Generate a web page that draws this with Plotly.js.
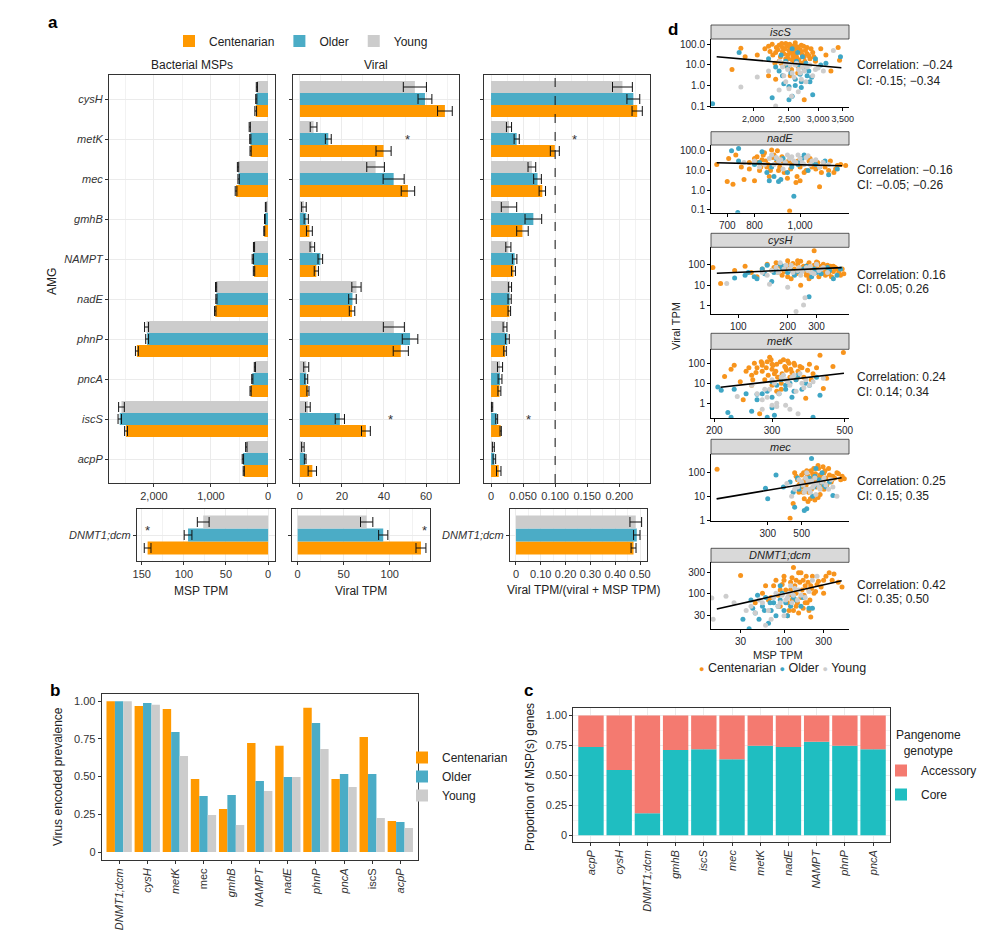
<!DOCTYPE html>
<html><head><meta charset="utf-8">
<script src="https://cdn.plot.ly/plotly-3.0.1.min.js"></script>
<style>html,body{margin:0;padding:0;background:#fff}#chart{width:992px;height:939px}</style>
</head><body><div id="chart"></div>
<script>
// ---------------- DATA ----------------
const groups = ['Centenarian','Older','Young'];
const amg = ['cysH','metK','mec','gmhB','NAMPT','nadE','phnP','pncA','iscS','acpP'];

const msp_C = [215,305,560,65,245,925,2300,305,2490,425];
const msp_O = [205,310,515,55,265,905,2120,275,2600,440];
const msp_Y = [195,320,525,40,245,910,2130,230,2570,380];
const msp_C_err = [15,10,15,8,12,12,25,10,25,10];
const msp_O_err = [10,10,12,6,12,10,25,10,30,12];
const msp_Y_err = [10,10,12,6,10,10,35,10,50,12];

const vir_C = [69,39.8,51.4,4.5,7.8,24.8,48,3.8,31.4,5.9];
const vir_O = [59.5,13.5,44.6,3.0,9.7,25,52.4,3,19,2.5];
const vir_Y = [54.7,6.5,36,1.9,5.9,26.9,44.7,3,3.8,1.4];
const vir_C_err = [3.5,3.6,3.2,1.4,1.0,1.3,3.6,0.5,2.1,2];
const vir_O_err = [3.3,1.4,5,1.0,1.1,1.8,3.7,0.7,2.2,0.4];
const vir_Y_err = [5.5,1.6,4.2,1.1,1.1,2.2,5,1.2,1.1,0.6];

const rat_C = [0.228,0.0995,0.080,0.049,0.035,0.0285,0.0218,0.013,0.015,0.012];
const rat_O = [0.222,0.040,0.0725,0.066,0.0368,0.029,0.0254,0.014,0.0088,0.0052];
const rat_Y = [0.205,0.028,0.0637,0.028,0.027,0.0295,0.0218,0.014,0.0016,0.0036];
const rat_C_err = [0.008,0.007,0.005,0.009,0.003,0.002,0.002,0.0023,0.001,0.0035];
const rat_O_err = [0.010,0.004,0.006,0.013,0.0035,0.0025,0.003,0.003,0.0015,0.002];
const rat_Y_err = [0.0155,0.004,0.006,0.012,0.004,0.0025,0.003,0.004,0.001,0.0015];

const dnmt = ['DNMT1;dcm'];
const dn_msp = [143,95,77];      // C, O, Y
const dn_msp_err = [4,4.6,7];
const dn_vir = [134,93,75];
const dn_vir_err = [5.4,5,6.7];
const dn_rat = [0.474,0.487,0.483];
const dn_rat_err = [0.01,0.013,0.0235];

// panel b
const prevCats = ['DNMT1;dcm','cysH','metK','mec','gmhB','NAMPT','nadE','phnP','pncA','iscS','acpP'];
const prevTick = ['<i>DNMT1;dcm</i>','<i>cysH</i>','<i>metK</i>','mec','<i>gmhB</i>','<i>NAMPT</i>','<i>nadE</i>','<i>phnP</i>','<i>pncA</i>','iscS','<i>acpP</i>'];
const prev_C = [1.0,0.969,0.949,0.485,0.285,0.723,0.704,0.956,0.485,0.763,0.206];
const prev_O = [1.0,0.989,0.796,0.372,0.378,0.471,0.498,0.856,0.518,0.518,0.199];
const prev_Y = [1.0,0.976,0.637,0.246,0.179,0.405,0.498,0.684,0.431,0.226,0.159];

// panel c
const panCats = ['acpP','cysH','DNMT1;dcm','gmhB','iscS','mec','metK','nadE','NAMPT','phnP','pncA'];
const pan_core = [0.738,0.546,0.184,0.713,0.719,0.635,0.747,0.738,0.78,0.747,0.719];
const pan_acc = [0.262,0.454,0.816,0.287,0.281,0.365,0.253,0.262,0.22,0.253,0.281];

// panel d scatter
const isc_C_x = [1850,1900,1750,2050,2150,2200,2250,2300,2350,2400,2450,2500,2550,2600,2650,2700,2750,2800,2850,2900,2950,3050,3150,3250,3400,3430,2450,2550,2600,2350,2200,2300,2700,2750,2520,2650,2480,2580,2400,2700,2620,2800,
  2220,2260,2310,2330,2370,2390,2420,2440,2470,2490,2510,2530,2560,2570,2590,2610,2630,2660,2680,2720,2740,2770,2830,2870,2920,2380,2460,2540,2640,2760,2290,2510,2580,2690];
const isc_C_y = [65,25,6,30,60,80,100,40,90,70,110,50,80,35,60,45,25,70,20,40,15,60,30,5,70,17,20,18,120,15,3,2,12,0.2,3,8,30,50,45,90,25,35,
  45,30,70,55,25,110,35,60,85,20,100,40,28,65,90,22,75,18,55,30,80,50,28,60,25,12,9,6,4,15,12,75,15,40];
const isc_O_x = [1550,1830,2250,2350,2400,2500,2550,2600,2650,2700,2750,2800,2850,2900,2950,3050,3150,3450,2450,2600,2300,2550,2700,2200,
  2380,2420,2480,2530,2620,2680,2720,2780,2830,2880,2500,2640];
const isc_O_y = [0.13,40,0.25,5,3,0.2,0.3,2,10,1.5,6,3,1.5,0.35,20,10,12,25,15,1,8,60,0.8,20,
  30,1.2,8,4,15,3.5,25,12,5,2.5,0.9,40];
const isc_Y_x = [1850,2050,2200,2300,2350,2400,2450,2500,2550,2600,2650,2700,2750,2800,2900,3000,3100,3300,2450,2650,
  2360,2420,2480,2520,2580,2620,2680,2720,2780,2850,2950,2540];
const isc_Y_y = [0.85,2.6,5,0.1,0.6,8,12,0.7,4,10,6,2,5,8,3,7,5,50,1.5,0.5,
  15,3,6,10,2.5,12,4,8,1.5,10,6,0.3];

const nad_C_x = [665,700,705,720,730,750,760,780,800,820,830,840,850,860,880,900,920,940,950,960,980,1000,1020,1050,1080,1100,1120,1150,1200,1250,870,810,990,1070,1180,930,
  780,800,815,825,835,845,855,865,875,890,905,915,925,945,955,970,985,1005,1015,1030,1045,1060,1090,1110,1130,1160,1190,1220,895,1000];
const nad_C_y = [20,2.8,40,2,60,15,3.5,25,3,10,35,80,15,5,60,10,30,4,0.09,20,2.5,15,8,40,12,1.5,25,10,18,18,110,50,30,20,8,25,
  12,40,25,15,60,30,20,10,45,25,15,50,8,30,12,25,5,40,20,10,30,15,25,8,15,30,12,20,100,3];
const nad_O_x = [737,740,715,740,800,830,860,880,900,920,960,970,1000,1040,1080,1150,1200,1010,850,
  820,870,890,940,990,1020,1060,1100,1130,910];
const nad_O_y = [0.075,130,100,30,20,90,3,5,2.8,40,15,0.5,30,10,20,6,12,40,8,
  25,15,40,8,20,60,25,15,30,3.5];
const nad_Y_x = [760,800,820,860,900,940,960,980,1000,1020,1040,1060,880,920,1100,
  840,870,890,910,930,950,970,990,1010,1030,1050,1080,1120,1150];
const nad_Y_y = [25,30,15,40,30,60,50,25,40,20,55,30,20,12,15,
  20,60,45,35,25,40,30,60,25,45,20,35,25,20];

const cys_C_x = [70,78,95,110,120,130,140,150,160,170,180,190,200,210,220,230,240,250,260,270,280,290,300,320,340,360,380,400,430,310,260,225,185,350,290,240,
  165,175,195,205,215,235,245,255,265,275,285,295,305,315,325,330,345,355,365,370,390,410,420,440,200,230,270,300,340,380];
const cys_C_y = [70,12,50,80,40,25,60,100,50,120,80,45,150,20,60,100,10,80,40,120,60,450,50,80,30,50,45,60,60,25,30,35,30,90,90,140,
  70,40,60,90,110,40,70,55,90,30,40,70,120,60,40,100,60,35,80,25,70,40,30,35,25,150,20,130,45,80];
const cys_O_x = [95,110,130,140,150,170,180,200,220,250,270,280,300,350,380,400,160,190,
  115,125,145,165,185,210,230,260,290,320,360,420];
const cys_O_y = [22,30,20,60,90,50,100,40,30,60,2.8,25,40,70,20,30,15,80,
  40,25,35,40,70,50,45,80,60,35,50,60];
const cys_Y_x = [85,140,155,170,190,200,210,225,250,255,230,260,280,300,320,240,180,
  150,160,175,195,205,215,235,245,265,275,290,310,330,350];
const cys_Y_y = [12,40,11,70,60,8,90,0.55,1.1,2.5,50,70,40,100,60,30,120,
  30,50,40,90,60,40,70,45,50,80,35,50,70,40];

const met_C_x = [215,230,240,245,250,260,265,270,275,280,285,290,300,305,310,320,330,335,340,350,360,370,380,390,400,420,430,495,260,295,315,345,325,300,280,355,310,
  225,255,262,268,278,288,292,298,302,308,312,318,322,328,332,338,342,348,352,358,365,375,385,395,410,440,460,320,300,280];
const met_C_y = [22,80,12,1.5,40,25,100,60,0.3,80,15,120,50,30,90,10,60,130,20,100,40,60,1.8,90,30,250,5.5,350,8,200,20,35,150,90,40,15,4,
  50,60,15,35,120,60,25,150,80,40,20,120,30,70,45,100,50,25,80,20,70,20,45,15,60,18,70,5,8,100];
const met_O_x = [205,210,220,225,260,270,280,290,300,310,320,340,350,360,380,400,420,270,330,300,
  230,250,290,300,315,330,345,355,370,390,410,305];
const met_O_y = [6.5,4.5,0.35,0.2,0.4,1.5,3,0.2,0.6,8,15,10,4,25,10,0.2,2.5,2.8,5,2,
  5,3,4,12,3,8,2,15,5,8,20,0.25];
const met_Y_x = [235,270,280,290,300,305,310,320,330,340,350,360,370,380,430,295,340,310,
  260,285,300,315,325,335,345,355,365,375,390,400,280,330];
const met_Y_y = [2.2,3,1.5,2,0.8,10,0.7,20,15,0.5,25,0.3,10,15,18,5,8,1,
  8,5,15,3,25,12,20,4,30,6,8,12,0.5,0.8];

const mec_C_x = [140,420,440,450,470,480,500,510,520,540,560,580,600,620,640,660,680,700,720,750,780,800,850,900,950,550,610,660,480,530,590,690,
  460,490,505,515,525,535,545,555,565,575,585,595,605,615,625,635,645,655,670,690,710,730,760,790,820,870,920,570,640,700];
const mec_C_y = [140,1.2,5,100,50,30,80,15,8,120,60,20,150,40,200,80,30,100,60,150,40,70,100,50,55,6,7,12,15,45,90,180,
  70,40,25,100,50,30,80,15,40,120,60,10,35,90,25,60,150,45,70,40,120,30,80,50,60,90,70,8,9,20];
const mec_O_x = [290,300,340,380,420,450,480,500,520,540,560,580,600,650,700,800,620,
  440,470,530,560,590,610,640,680,720,760];
const mec_O_y = [22,8,80,25,40,3.5,20,30,2.5,3,60,400,25,50,30,11,150,
  15,60,20,40,10,70,30,100,25,40];
const mec_Y_x = [400,430,470,500,520,540,560,580,600,620,650,700,750,850,530,
  450,480,510,530,550,570,590,610,630,660,680,720,780,800];
const mec_Y_y = [35,10,25,40,15,100,20,45,30,12,25,60,20,10,60,
  20,50,30,20,45,15,25,60,35,20,40,30,50,25];

const dnm_C_x = [30,45,55,60,70,80,90,100,110,120,130,140,150,160,170,180,200,210,220,250,300,350,400,500,150,130,110,120,90,75,230,180,140,200,
  65,85,95,105,115,125,135,145,155,165,175,185,195,205,215,240,260,280,320,380,450,100,125,160,190,140,115,170,210,300];
const dnm_C_y = [260,60,100,150,80,200,120,250,60,180,400,100,300,80,200,150,120,28,250,160,200,300,280,140,35,40,30,120,50,150,100,60,200,40,
  70,90,160,120,90,230,150,60,180,120,90,250,180,70,130,110,190,140,250,200,180,200,70,300,60,50,40,45,150,100];
const dnm_O_x = [32,38,40,45,50,55,60,65,70,80,90,100,120,130,160,200,75,110,90,
  42,48,58,68,85,95,105,140,170,220];
const dnm_O_y = [25,15,70,35,25,50,80,20,40,30,70,40,50,80,50,45,60,30,150,
  45,90,40,60,50,100,60,70,80,45];
const dnm_Y_x = [13.5,14,20,25,35,45,50,60,70,80,90,100,110,130,150,180,250,120,
  55,65,75,85,95,105,115,125,135,145,160,200,220,40];
const dnm_Y_y = [78,25,85,60,40,35,70,18,25,100,60,30,80,90,120,80,250,150,
  60,40,80,50,90,70,100,60,130,70,90,110,200,50];

// fitted line endpoints
const fit_isc_x = [1590,3470], fit_isc_y = [25,7.3];
const fit_nad_x = [665,1228], fit_nad_y = [24.5,17.4];
const fit_cys_x = [74,427], fit_cys_y = [37,69];
const fit_met_x = [209,497], fit_met_y = [6.3,31.6];
const fit_mec_x = [139,912], fit_mec_y = [7.8,61.5];
const fit_dnm_x = [15.5,495], fit_dnm_y = [43,196];

const corrText = ['Correlation: \u22120.24','Correlation: \u22120.16','Correlation: 0.16','Correlation: 0.24','Correlation: 0.25','Correlation: 0.42'];
const ciText = ['CI: -0.15; \u22120.34','CI: \u22120.05; \u22120.26','CI: 0.05; 0.26','CI: 0.14; 0.34','CI: 0.15; 0.35','CI: 0.35; 0.50'];
const stripText = ['iscS','nadE','cysH','metK','mec','DNMT1;dcm'];

// ---------------- LAYOUT HELPERS ----------------
const W=992,H=939;
const px=v=>v/W, py=v=>1-v/H;
const dX=(a,b)=>[px(a),px(b)];
const dY=(top,bot)=>[py(bot),py(top)];
const FONT='Liberation Sans, Arial, sans-serif';
const colBar = {Centenarian:'#FF9900', Older:'#4BACC6', Young:'#CCCCCC'};
const colPt = {Centenarian:'#F7941D', Older:'#3FA6C5', Young:'#CDCDCD'};

function boxAxis(o){return Object.assign({showline:true,mirror:true,linecolor:'#333',linewidth:1,ticks:'outside',ticklen:3,tickcolor:'#333',showgrid:true,gridcolor:'#EBEBEB',gridwidth:1,zeroline:false,tickfont:{size:11,color:'#333'},fixedrange:true},o);}
function scAxis(o){return Object.assign({type:'log',showline:true,mirror:false,linecolor:'#000',linewidth:1,ticks:'outside',ticklen:3,tickcolor:'#000',showgrid:false,zeroline:false,tickfont:{size:10,color:'#1d1d2b'},fixedrange:true},o);}

const traces=[];
const errCfg=(arr)=>({type:'data',array:arr,color:'#111',thickness:1,width:5});

// Panel a top
const topSets=[
  {ax:'x',ay:'y',vals:[msp_C,msp_O,msp_Y],errs:[msp_C_err,msp_O_err,msp_Y_err],leg:true},
  {ax:'x2',ay:'y2',vals:[vir_C,vir_O,vir_Y],errs:[vir_C_err,vir_O_err,vir_Y_err],leg:false},
  {ax:'x3',ay:'y3',vals:[rat_C,rat_O,rat_Y],errs:[rat_C_err,rat_O_err,rat_Y_err],leg:false}
];
topSets.forEach(s=>{
  groups.forEach((g,i)=>{
    traces.push({type:'bar',orientation:'h',name:g,y:amg,x:s.vals[i],error_x:errCfg(s.errs[i]),
      marker:{color:colBar[g]},xaxis:s.ax,yaxis:s.ay,showlegend:s.leg,legend:'legend',legendgroup:'a'+g});
  });
});
// Panel a bottom
const botSets=[
  {ax:'x4',ay:'y4',vals:dn_msp,errs:dn_msp_err},
  {ax:'x5',ay:'y5',vals:dn_vir,errs:dn_vir_err},
  {ax:'x6',ay:'y6',vals:dn_rat,errs:dn_rat_err}
];
botSets.forEach(s=>{
  groups.forEach((g,i)=>{
    traces.push({type:'bar',orientation:'h',name:g,y:dnmt,x:[s.vals[i]],error_x:errCfg([s.errs[i]]),
      marker:{color:colBar[g]},xaxis:s.ax,yaxis:s.ay,showlegend:false});
  });
});
// Panel b
[prev_C,prev_O,prev_Y].forEach((v,i)=>{
  const g=groups[i];
  traces.push({type:'bar',name:g,x:prevCats,y:v,marker:{color:colBar[g]},xaxis:'x7',yaxis:'y7',legend:'legend2',showlegend:true});
});
// Panel c
traces.push({type:'bar',name:'Core',x:panCats,y:pan_core,marker:{color:'#1FBEC1'},xaxis:'x8',yaxis:'y8',offsetgroup:'pc',legend:'legend3',legendrank:2,legendgroup:'core'});
traces.push({type:'bar',name:'Accessory',x:panCats,y:pan_acc,base:pan_core,marker:{color:'#F47A70'},xaxis:'x8',yaxis:'y8',offsetgroup:'pc',legend:'legend3',legendrank:1,legendgroup:'acc'});

// Panel d
const scSets=[
  [[isc_C_x,isc_C_y],[isc_O_x,isc_O_y],[isc_Y_x,isc_Y_y],[fit_isc_x,fit_isc_y]],
  [[nad_C_x,nad_C_y],[nad_O_x,nad_O_y],[nad_Y_x,nad_Y_y],[fit_nad_x,fit_nad_y]],
  [[cys_C_x,cys_C_y],[cys_O_x,cys_O_y],[cys_Y_x,cys_Y_y],[fit_cys_x,fit_cys_y]],
  [[met_C_x,met_C_y],[met_O_x,met_O_y],[met_Y_x,met_Y_y],[fit_met_x,fit_met_y]],
  [[mec_C_x,mec_C_y],[mec_O_x,mec_O_y],[mec_Y_x,mec_Y_y],[fit_mec_x,fit_mec_y]],
  [[dnm_C_x,dnm_C_y],[dnm_O_x,dnm_O_y],[dnm_Y_x,dnm_Y_y],[fit_dnm_x,fit_dnm_y]]
];
scSets.forEach((s,k)=>{
  const ax='x'+(9+k), ay='y'+(9+k);
  for(let i=0;i<3;i++){
    const g=groups[i];
    traces.push({type:'scatter',mode:'markers',name:g,x:s[i][0],y:s[i][1],marker:{color:colPt[g],size:5},
      xaxis:ax,yaxis:ay,showlegend:false});
  }
  traces.push({type:'scatter',mode:'lines',x:s[3][0],y:s[3][1],line:{color:'#000',width:1.6},xaxis:ax,yaxis:ay,showlegend:false,hoverinfo:'skip'});
});

// ---------------- AXES ----------------
const layout={width:W,height:H,margin:{l:0,r:0,t:0,b:0},paper_bgcolor:'#fff',plot_bgcolor:'#fff',
  font:{family:FONT,size:11,color:'#222'},barmode:'group',bargap:0.1,bargroupgap:0,showlegend:true,
  annotations:[],shapes:[]};

const amgRev=amg.slice().reverse();
const catY=(o)=>boxAxis(Object.assign({type:'category',categoryorder:'array',categoryarray:amgRev,range:[-0.6,9.6],
  tickmode:'array',tickvals:amg,ticktext:amg.map(s=>'<i>'+s+'</i>')},o));
const topTop=75, topBot=483;
layout.xaxis = boxAxis({domain:dX(109,275),anchor:'y',range:[2789,-123],tickmode:'array',tickvals:[0,1000,2000],ticktext:['0','1,000','2,000'],
  minor:{tick0:0,dtick:500,showgrid:true,gridcolor:'#F2F2F2',ticks:''}});
layout.yaxis = catY({domain:dY(topTop,topBot),anchor:'x'});
layout.xaxis2 = boxAxis({domain:dX(293,459),anchor:'y2',range:[-3.3,75.7],tickmode:'array',tickvals:[0,20,40,60],
  minor:{tick0:0,dtick:10,showgrid:true,gridcolor:'#F2F2F2',ticks:''}});
layout.yaxis2 = catY({domain:dY(topTop,topBot),anchor:'x2',showticklabels:false});
layout.xaxis3 = boxAxis({domain:dX(484,650),anchor:'y3',range:[-0.011,0.248],tickmode:'array',tickvals:[0,0.05,0.1,0.15,0.2],ticktext:['0','0.050','0.100','0.150','0.200'],
  minor:{tick0:0,dtick:0.025,showgrid:true,gridcolor:'#F2F2F2',ticks:''}});
layout.yaxis3 = catY({domain:dY(topTop,topBot),anchor:'x3',showticklabels:false});

const botTop=509, botBot=561;
const dnY=(o)=>boxAxis(Object.assign({type:'category',range:[-0.6,0.6],tickmode:'array',tickvals:dnmt,ticktext:['<i>DNMT1;dcm</i>']},o));
layout.xaxis4 = boxAxis({domain:dX(137,275),anchor:'y4',range:[155.6,-8.2],tickmode:'array',tickvals:[0,50,100,150],
  minor:{tick0:0,dtick:25,showgrid:true,gridcolor:'#F2F2F2',ticks:''}});
layout.yaxis4 = dnY({domain:dY(botTop,botBot),anchor:'x4'});
layout.xaxis5 = boxAxis({domain:dX(291.5,429.7),anchor:'y5',range:[-6.7,143.5],tickmode:'array',tickvals:[0,50,100],
  minor:{tick0:0,dtick:25,showgrid:true,gridcolor:'#F2F2F2',ticks:''}});
layout.yaxis5 = dnY({domain:dY(botTop,botBot),anchor:'x5',showticklabels:false});
layout.xaxis6 = boxAxis({domain:dX(510,646.7),anchor:'y6',range:[-0.024,0.527],tickmode:'array',tickvals:[0,0.1,0.2,0.3,0.4,0.5],ticktext:['0','0.10','0.20','0.30','0.40','0.50'],
  minor:{tick0:0,dtick:0.05,showgrid:true,gridcolor:'#F2F2F2',ticks:''}});
layout.yaxis6 = dnY({domain:dY(botTop,botBot),anchor:'x6'});

// panel b
layout.xaxis7 = boxAxis({domain:dX(101.7,418.3),anchor:'y7',type:'category',range:[-0.62,10.64],showgrid:false,
  tickmode:'array',tickvals:prevCats,ticktext:prevTick,tickangle:-90});
layout.yaxis7 = boxAxis({domain:dY(694,860),anchor:'x7',range:[-0.053,1.048],showgrid:false,tickmode:'array',
  tickvals:[0,0.25,0.5,0.75,1],ticktext:['0','0.25','0.50','0.75','1.00']});
// panel c
layout.xaxis8 = boxAxis({domain:dX(573.3,890),anchor:'y8',type:'category',range:[-0.627,10.6],
  tickmode:'array',tickvals:panCats,ticktext:panCats.map(s=>'<i>'+s+'</i>'),tickangle:-90});
layout.yaxis8 = boxAxis({domain:dY(708.3,841.7),anchor:'x8',range:[-0.053,1.06],tickmode:'array',
  tickvals:[0,0.25,0.5,0.75,1],ticktext:['0','0.25','0.50','0.75','1.00'],
  minor:{tick0:0,dtick:0.125,showgrid:true,gridcolor:'#F4F4F4',ticks:''}});

// panel d
const scX=[
  {range:[3.186,3.561],tickvals:[2000,2500,3000,3500],ticktext:['2,000','2,500','3,000','3,500'],tickfont:{size:9,color:'#1d1d2b'}},
  {range:[2.8106,3.104],tickvals:[700,800,1000],ticktext:['700','800','1,000']},
  {range:[1.8335,2.675],tickvals:[100,200,300],ticktext:['100','200','300']},
  {range:[2.291,2.7117],tickvals:[200,300,500],ticktext:['200','300','500']},
  {range:[2.1064,3.0084],tickvals:[300,500],ticktext:['300','500']},
  {range:[1.1205,2.783],tickvals:[30,100,300],ticktext:['30','100','300']}
];
const scY=[
  {top:39,bot:107.3,range:[-1.06,2.257],tickvals:[0.1,1,10,100],ticktext:['0.1','1.0','10.0','100.0'],strip:[25,39]},
  {top:145,bot:212.7,range:[-1.137,2.29],tickvals:[0.1,1,10,100],ticktext:['0.1','1.0','10.0','100.0'],strip:[131.7,145]},
  {top:247.3,bot:314.3,range:[-0.4,2.817],tickvals:[1,10,100],ticktext:['1','10','100'],strip:[233.3,247.3]},
  {top:349.3,bot:418,range:[-0.735,2.7],tickvals:[1,10,100],ticktext:['1','10','100'],strip:[333.3,349.3]},
  {top:454,bot:520.5,range:[-0.02,2.79],tickvals:[1,10,100],ticktext:['1','10','100'],strip:[439.3,454]},
  {top:562.3,bot:629.3,range:[1.163,2.72],tickvals:[30,100,300],ticktext:['30','100','300'],strip:[548.3,562.3]}
];
const corrY=[[65,80.7],[170,185],[275,289.3],[377.3,391.7],[481,495.7],[585,599.3]];
for(let k=0;k<6;k++){
  const n=9+k;
  layout['xaxis'+n]=scAxis(Object.assign({domain:dX(711,849),anchor:'y'+n,tickmode:'array',tickangle:0},scX[k]));
  layout['yaxis'+n]=scAxis({domain:dY(scY[k].top,scY[k].bot),anchor:'x'+n,range:scY[k].range,tickmode:'array',tickvals:scY[k].tickvals,ticktext:scY[k].ticktext});
  layout.shapes.push({type:'rect',xref:'paper',yref:'paper',x0:px(711),x1:px(849),y0:py(scY[k].strip[1]),y1:py(scY[k].strip[0]),
    fillcolor:'#D9D9D9',line:{color:'#333',width:0.8}});
  layout.annotations.push({xref:'paper',yref:'paper',x:px(780),y:py((scY[k].strip[0]+scY[k].strip[1])/2),text:'<i>'+stripText[k]+'</i>',
    showarrow:false,font:{size:11,color:'#222'},xanchor:'center',yanchor:'middle'});
  layout.annotations.push({xref:'paper',yref:'paper',x:px(855),y:py(corrY[k][0]),text:corrText[k],showarrow:false,font:{size:12,color:'#222'},xanchor:'left',yanchor:'middle'});
  layout.annotations.push({xref:'paper',yref:'paper',x:px(855),y:py(corrY[k][1]),text:ciText[k],showarrow:false,font:{size:12,color:'#222'},xanchor:'left',yanchor:'middle'});
}

// dashed line at 0.100
layout.shapes.push({type:'line',xref:'x3',yref:'paper',x0:0.1,x1:0.1,y0:py(topBot),y1:py(topTop),line:{color:'#111',width:1,dash:'dash'}});

// ---------------- LEGENDS ----------------
layout.legend={orientation:'h',x:px(169),y:py(41),xanchor:'left',yanchor:'middle',font:{size:12,color:'#222'},bgcolor:'rgba(0,0,0,0)',traceorder:'normal'};
layout.legend2={x:px(402),y:py(743),xanchor:'left',yanchor:'top',font:{size:12,color:'#222'},bgcolor:'rgba(0,0,0,0)',tracegroupgap:2};
layout.legend3={x:px(881),y:py(756),xanchor:'left',yanchor:'top',font:{size:12,color:'#222'},bgcolor:'rgba(0,0,0,0)',tracegroupgap:5};

// ---------------- ANNOTATIONS ----------------
function ann(text,x,y,o){layout.annotations.push(Object.assign({xref:'paper',yref:'paper',x:px(x),y:py(y),text:text,showarrow:false,
  xanchor:'center',yanchor:'middle',font:{size:12,color:'#222'}},o||{}));}
ann('<b>a</b>',53,22,{font:{size:17,color:'#000'}});
ann('<b>b</b>',55,690,{font:{size:17,color:'#000'}});
ann('<b>c</b>',528,690,{font:{size:17,color:'#000'}});
ann('<b>d</b>',673,30,{font:{size:17,color:'#000'}});
ann('Bacterial MSPs',192,65);
ann('Viral',376,65);
ann('AMG',52,282,{textangle:-90});
ann('MSP TPM',201,591);
ann('Viral TPM',361,591);
ann('Viral TPM/(viral + MSP TPM)',583,590);
ann('Virus encoded prevalence',58,777,{textangle:-90});
ann('Proportion of MSP(s) genes',530,777,{textangle:-90});
ann('Viral TPM',676,326,{textangle:-90,font:{size:11,color:'#222'}});
ann('MSP TPM',778,655,{font:{size:11,color:'#222'}});
ann('Pangenome<br>genotype',928,743,{font:{size:12,color:'#222'}});
// panel d legend (dot key)
const dot=(c)=>'<span style="color:'+c+';font-size:9px">\u25CF</span>';
ann(dot(colPt.Centenarian)+' Centenarian '+dot(colPt.Older)+' Older '+dot(colPt.Young)+' Young',782,668,{font:{size:12.5,color:'#222'}});
// significance stars (data coordinates)
const star=(xr,yr,x,y)=>layout.annotations.push({xref:xr,yref:yr,x:x,y:y,text:'*',showarrow:false,font:{size:13,color:'#333'},xanchor:'center',yanchor:'middle'});
star('x2','y2',51.4,8); star('x3','y3',0.13,8); star('x2','y2',42.9,1); star('x3','y3',0.059,1);
star('x4','y4',143,0.1); star('x5','y5',138,0.1);

Plotly.newPlot('chart',traces,layout,{staticPlot:true});
</script></body></html>
